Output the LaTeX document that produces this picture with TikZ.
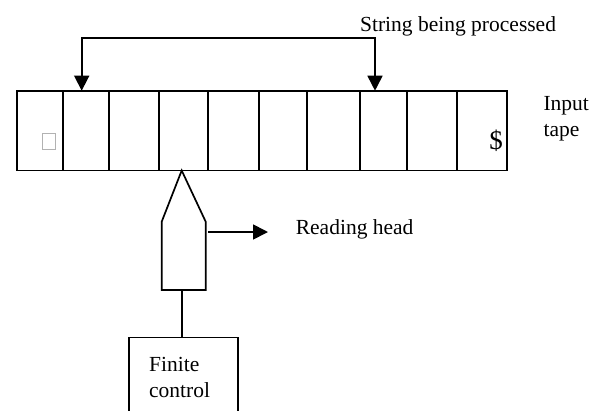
\documentclass[tikz,border=0pt]{standalone}
\usepackage{fontspec}
\setmainfont{Liberation Serif}
\usetikzlibrary{arrows.meta}

\tikzset{
  cell/.style={draw, inner sep=0pt, outer sep=0pt, minimum height=79.8pt},
  tip/.style={-{Triangle[length=15pt,width=15pt]}},
}

\begin{document}
\begin{tikzpicture}[x=1pt, y=-1pt, line width=1.7pt, font=\fontsize{21.5}{26}\selectfont]
\useasboundingbox (0,0) rectangle (601,410);
\clip (0,0) rectangle (601,410);

% the tape, cell by cell
\foreach \l/\r [count=\i] in {16.7/62.7, 62.7/109.3, 109.3/159.3, 159.3/208.3, 208.3/259,
    259/307.3, 307.3/360.3, 360.3/406.7, 406.7/457.3, 457.3/507.3}
  \node[cell, minimum width={\r pt-\l pt}] (c\i) at ({(\l+\r)/2},130.6) {};
\node[draw=gray!60, line width=0.9pt, inner sep=0pt, minimum width=13pt, minimum height=16pt] (blank) at (49.3,141) {};
\node[font=\fontsize{27}{30}\selectfont] (dollar) at (496,141) {\$};
\node[anchor=base west, align=left, inner sep=0pt] (inp) at (542.7,136.7) {Input\\tape};

% string being processed
\coordinate (s1) at (81.7,90.7);
\coordinate (s2) at (375,90.7);
\coordinate (sm) at (228,38.3);
\draw[{Triangle[length=15pt,width=15pt]}-{Triangle[length=15pt,width=15pt]}] (s1) |- (sm) -| (s2);
\node[anchor=base west, inner sep=0pt] (str) at (359.3,31.7) {String being processed};

% reading head
\coordinate (h0) at (181.7,170.5);
\coordinate (h1) at (205.7,221.7);
\coordinate (h2) at (205.7,290);
\coordinate (hb) at (181.7,290);
\coordinate (h3) at (161.7,290);
\coordinate (h4) at (161.7,221.7);
\draw (h0) -- (h1) -- (h2) -- (h3) -- (h4) -- cycle;
\coordinate (ra) at (208,232);
\coordinate (rb) at (268,232);
\draw[tip] (ra) -- (rb);
\node[anchor=base west, inner sep=0pt] (rh) at (295,234.3) {Reading head};

% finite control
\node[draw, anchor=north west, minimum height=79pt, text width=69pt, inner xsep=20pt, align=left] (fc) at (128.3,336.7) {Finite\\control};
\draw (hb) -- (hb |- fc.north);
\end{tikzpicture}
\end{document}
